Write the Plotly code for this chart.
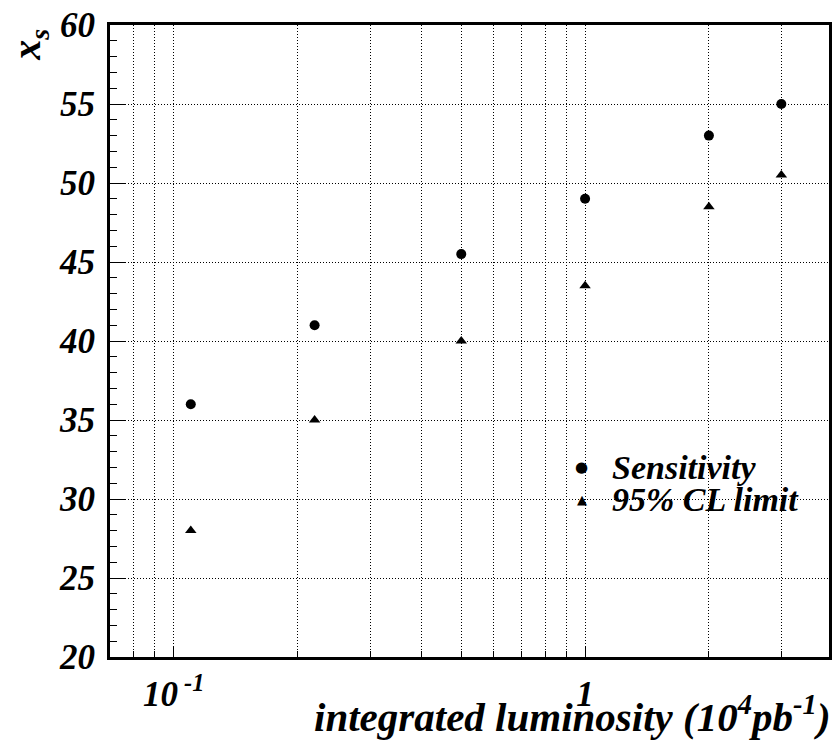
import plotly.graph_objects as go

# Integrated luminosity (10^4 pb^-1)
luminosity = [0.11, 0.22, 0.5, 1.0, 2.0, 3.0]
# x_s reach
sensitivity = [36.0, 41.0, 45.5, 49.0, 53.0, 55.0]
cl95_limit = [28.0, 35.0, 40.0, 43.5, 48.5, 50.5]

x_major = [0.1, 1.0]
x_major_text = ["10<sup> -1</sup>", "1"]
x_minor = [0.08, 0.09, 0.2, 0.3, 0.4, 0.5, 0.6, 0.7, 0.8, 0.9, 2.0, 3.0]
y_major = [20, 25, 30, 35, 40, 45, 50, 55, 60]

SERIF = "Liberation Serif, Times New Roman, serif"
DOT = "1px,2px"


def bi_font(size):
    return dict(family=SERIF, size=size, color="black", weight="bold", style="italic")


fig = go.Figure()
fig.add_trace(go.Scatter(
    x=luminosity, y=sensitivity, mode="markers", name="Sensitivity",
    marker=dict(symbol="circle", size=10, color="black"),
))
fig.add_trace(go.Scatter(
    x=luminosity, y=cl95_limit, mode="markers", name="95% CL limit",
    marker=dict(symbol="triangle-up", size=10, color="black"),
))

fig.update_xaxes(
    type="log", range=[-1.155, 0.593],
    tickmode="array", tickvals=x_major, ticktext=x_major_text,
    ticks="inside", ticklen=10, tickwidth=1, tickcolor="black",
    showgrid=True, gridcolor="black", griddash=DOT, gridwidth=1,
    minor=dict(tickmode="array", tickvals=x_minor, ticks="inside", ticklen=6,
               tickcolor="black", showgrid=True, gridcolor="black",
               griddash=DOT, gridwidth=1),
    showline=True, linecolor="black", linewidth=3, mirror=True,
    tickfont=bi_font(35), ticklabelstandoff=4, zeroline=False,
)
fig.update_yaxes(
    range=[20, 60],
    tickmode="array", tickvals=y_major,
    ticks="inside", ticklen=15, tickwidth=1, tickcolor="black",
    showgrid=True, gridcolor="black", griddash=DOT, gridwidth=1,
    minor=dict(dtick=1, ticks="inside", ticklen=7, tickcolor="black", showgrid=False),
    showline=True, linecolor="black", linewidth=3, mirror=True,
    tickfont=bi_font(35), ticklabelstandoff=5, zeroline=False,
)

# axis titles
fig.add_annotation(
    text="integrated luminosity (10<sup>4</sup>pb<sup>-1</sup>)",
    xref="paper", yref="paper", x=1.005, y=-0.135,
    xanchor="right", yanchor="bottom", showarrow=False,
    font=bi_font(41),
)
fig.add_annotation(
    text="x<sub>s</sub>",
    xref="paper", yref="paper", x=-0.112, y=0.998,
    xanchor="center", yanchor="top", textangle=-90, showarrow=False,
    font=bi_font(40),
)

# legend key: symbol glyphs and labels
legend_rows = [("●", "Sensitivity", 0.300, 15), ("▲", "95% CL limit", 0.250, 13)]
for glyph, label, ypos, gsize in legend_rows:
    fig.add_annotation(
        text=glyph, xref="paper", yref="paper", x=0.656, y=ypos,
        xanchor="center", yanchor="middle", showarrow=False,
        font=dict(family="DejaVu Sans", size=gsize, color="black"),
    )
    fig.add_annotation(
        text=label, xref="paper", yref="paper", x=0.695, y=ypos,
        xanchor="left", yanchor="middle", showarrow=False,
        font=bi_font(34),
    )

fig.update_layout(
    width=838, height=744,
    margin=dict(l=110, r=6, t=20, b=87),
    paper_bgcolor="white", plot_bgcolor="white",
    showlegend=False,
)

fig.write_html("out.html")
